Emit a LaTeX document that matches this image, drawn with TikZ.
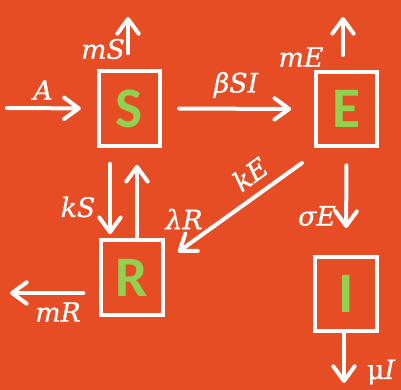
\documentclass[tikz,border=0pt]{standalone}
\usepackage{fontspec}
\setmainfont{DejaVu Serif}
\newfontfamily\boxfont{Carlito}
\newfontfamily\ratefont[FakeBold=0.8,ItalicFeatures={FakeBold=0.8}]{DejaVu Serif}
\usetikzlibrary{arrows.meta}
\definecolor{bgorange}{RGB}{230,77,37}
\definecolor{lettergreen}{RGB}{146,208,80}

\begin{document}
\begin{tikzpicture}[x=0.75pt,y=-0.75pt,
  compartment/.style={draw=white, line width=3pt, minimum width=46pt, minimum height=56pt,
    inner sep=0pt, text=lettergreen, font=\boxfont\bfseries\fontsize{43}{43}\selectfont},
  flow/.style={draw=white, line width=3pt, line cap=round,
    -{Straight Barb[length=11pt,width=16pt,round]}},
  rate/.style={text=white, inner sep=0pt, font=\ratefont\fontsize{20}{20}\selectfont\itshape},
]
% background and page size
\fill[bgorange] (0,0) rectangle (401,390);
\useasboundingbox (0,0) rectangle (401,390);

% compartments
\node[compartment] (S) at (129.5,108.5) {S};
\node[compartment] (E) at (346.5,109) {E};
\node[compartment] (R) at (132,277.5) {R};
\node[compartment] (I) at (346,294) {I};

% free ends of the inflow and outflows
\coordinate (Ain)   at (7,108);
\coordinate (mSout) at (128,17);
\coordinate (mEout) at (343,17);
\coordinate (mRout) at (10,293);
\coordinate (muIout) at (344,383);
\coordinate (kSx)   at (110,0);
\coordinate (lRx)   at (137,0);
\coordinate (kEa)   at (302,163);
\coordinate (kEb)   at (178,252);

% flows
\draw[flow, shorten >=12pt] (Ain) -- (S.west);
\draw[flow, shorten <=12pt] (S.north -| mSout) -- (mSout);
\draw[flow, shorten <=12.75pt, shorten >=17pt] (S.east) -- (E.west);
\draw[flow, shorten <=11pt] (E.north -| mEout) -- (mEout);
\draw[flow, shorten <=12pt, shorten >=3pt] (S.south -| kSx) -- (R.north -| kSx);
\draw[flow, shorten >=12.75pt] (R.north -| lRx) -- (S.south -| lRx);
\draw[flow] (kEa) -- (kEb);
\draw[flow, shorten <=12.75pt, shorten >=20pt] (E.south) -- (I.south |- I.north);
\draw[flow] (I.south -| muIout) -- (muIout);
\draw[flow, shorten <=12pt] (R.west |- mRout) -- (mRout);

% rate labels
\node[rate] (lA)   at (43,90)   {A};
\node[rate] (lmS)  at (103,49)  {mS};
\node[rate] (lbSI) at (236,85)  {βSI};
\node[rate] (lmE)  at (301,57)  {mE};
\node[rate, rotate=36] (lkE) at (250,174) {kE};
\node[rate] (lkS)  at (78,207)  {kS};
\node[rate] (llR)  at (184,219) {λR};
\node[rate] (lsE)  at (317,216) {σE};
\node[rate] (lmR)  at (58,312)  {mR};
\node[rate] (lmuI) at (381,372) {{\upshape μ}I};
\end{tikzpicture}
\end{document}
